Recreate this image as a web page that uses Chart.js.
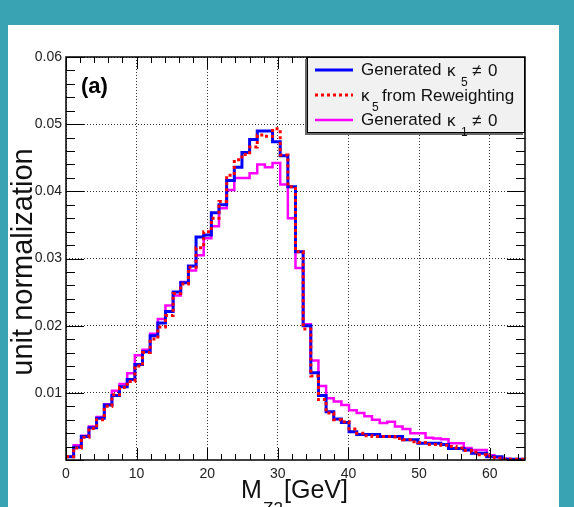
<!DOCTYPE html>
<html>
<head>
<meta charset="utf-8">
<script src="https://cdn.jsdelivr.net/npm/chart.js@4.4.1/dist/chart.umd.min.js"></script>
<style>
  html, body { margin: 0; padding: 0; }
  body { width: 574px; height: 507px; overflow: hidden; background: #3aa3b3; position: relative; }
  .card { position: absolute; left: 8px; top: 25px; width: 551px; height: 500px; background: #fff; }
  canvas { position: absolute; left: 0; top: 0; }
</style>
</head>
<body>
<div class="card"></div>
<canvas id="myChart" width="574" height="507"></canvas>
<script>
// histogram range (GeV) and axis ticks
const xMin = 0;
const xMax = 65;
const xTickLabels = [0, 10, 20, 30, 40, 50, 60];
const yTickLabels = ["0.01", "0.02", "0.03", "0.04", "0.05", "0.06"];

// bin contents, 60 bins between xMin and xMax
const generatedK5 = [
  0.0005, 0.0019, 0.0035, 0.0048, 0.0062, 0.0082, 0.0096, 0.0109, 0.0120, 0.0142,
  0.0161, 0.0185, 0.0204, 0.0221, 0.0250, 0.0264, 0.0289, 0.0332, 0.0335, 0.0368,
  0.0380, 0.0416, 0.0436, 0.0458, 0.0477, 0.0490, 0.0490, 0.0474, 0.0453, 0.0407,
  0.0310, 0.0200, 0.0130, 0.0096, 0.0072, 0.0061, 0.0056, 0.0042, 0.0038, 0.0038,
  0.0038, 0.0035, 0.0035, 0.0035, 0.0030, 0.0030, 0.0025, 0.0025, 0.0025, 0.0023,
  0.0017, 0.0017, 0.0015, 0.0010, 0.0010, 0.0005, 0.0005, 0.0001, 0.0001, 0.0001
];
const reweightedK5 = [
  0.0005, 0.0018, 0.0034, 0.0047, 0.0060, 0.0080, 0.0097, 0.0108, 0.0117, 0.0140,
  0.0160, 0.0180, 0.0198, 0.0215, 0.0248, 0.0262, 0.0287, 0.0316, 0.0340, 0.0360,
  0.0385, 0.0424, 0.0447, 0.0455, 0.0466, 0.0484, 0.0482, 0.0493, 0.0454, 0.0407,
  0.0310, 0.0195, 0.0125, 0.0090, 0.0070, 0.0060, 0.0057, 0.0046, 0.0040, 0.0036,
  0.0035, 0.0035, 0.0035, 0.0032, 0.0030, 0.0027, 0.0026, 0.0023, 0.0023, 0.0022,
  0.0020, 0.0018, 0.0014, 0.0012, 0.0008, 0.0006, 0.0003, 0.0001, 0.0001, 0.0001
];
const generatedK1 = [
  0.0005, 0.0022, 0.0036, 0.0050, 0.0064, 0.0083, 0.0103, 0.0113, 0.0129, 0.0156,
  0.0164, 0.0188, 0.0210, 0.0230, 0.0245, 0.0265, 0.0282, 0.0305, 0.0330, 0.0348,
  0.0375, 0.0402, 0.0420, 0.0420, 0.0427, 0.0440, 0.0436, 0.0442, 0.0410, 0.0360,
  0.0286, 0.0202, 0.0148, 0.0110, 0.0092, 0.0087, 0.0082, 0.0074, 0.0070, 0.0065,
  0.0060, 0.0055, 0.0057, 0.0050, 0.0046, 0.0040, 0.0040, 0.0033, 0.0032, 0.0031,
  0.0025, 0.0025, 0.0018, 0.0015, 0.0015, 0.0007, 0.0004, 0.0002, 0.0001, 0.0001
];

// turn bin contents into step points at the bin edges
const toSteps = (vals) => {
  const w = (xMax - xMin) / vals.length;
  const pts = vals.map((v, i) => ({ x: xMin + i * w, y: v }));
  pts.push({ x: xMax, y: vals[vals.length - 1] });
  return pts;
};

const FONT = "'Liberation Sans', Arial, Helvetica, sans-serif";

// ROOT style frame with inward ticks on all four sides
const frameTicks = {
  id: "frameTicks",
  afterDatasetsDraw(chart) {
    const { ctx, chartArea: a, scales: { x, y } } = chart;
    ctx.save();
    ctx.strokeStyle = "#000";
    ctx.lineWidth = 1;
    ctx.beginPath();
    for (let k = 0; k <= (xMax - xMin) / 2; k++) {
      const v = xMin + k * 2;
      const px = Math.round(x.getPixelForValue(v)) + 0.5;
      const len = v % 10 === 0 ? 12 : 6;
      ctx.moveTo(px, a.bottom); ctx.lineTo(px, a.bottom - len);
      ctx.moveTo(px, a.top); ctx.lineTo(px, a.top + len);
    }
    for (let k = 0; k <= 30; k++) {
      const py = Math.round(y.getPixelForValue(k * 0.002)) + 0.5;
      const len = k % 5 === 0 ? 18 : 9;
      ctx.moveTo(a.left, py); ctx.lineTo(a.left + len, py);
      ctx.moveTo(a.right, py); ctx.lineTo(a.right - len, py);
    }
    ctx.stroke();
    ctx.lineWidth = 1.5;
    ctx.strokeRect(a.left, a.top, a.right - a.left, a.bottom - a.top);
    ctx.restore();
  }
};

// legend box, label (a) and axis titles
const extras = {
  id: "extras",
  afterDraw(chart) {
    const { ctx, chartArea: a } = chart;
    ctx.save();

    // legend box
    const bx = 307, by = a.top, bw = a.right - 307, bh = 76;
    ctx.fillStyle = "#f1f1f1";
    ctx.fillRect(bx, by, bw, bh);
    ctx.fillStyle = "#6a6a6a";
    ctx.fillRect(bx - 2, by + 2, 2, bh);
    ctx.fillRect(bx - 2, by + bh, bw, 2);
    ctx.strokeStyle = "#000";
    ctx.lineWidth = 1;
    ctx.strokeRect(bx + 0.5, by + 0.5, bw - 1, bh - 1);

    const rows = [70, 95, 120];
    const styles = [
      { c: "#0000ff", dash: [] },
      { c: "#ff0000", dash: [3, 3] },
      { c: "#ff00ff", dash: [] }
    ];
    rows.forEach((ry, i) => {
      ctx.beginPath();
      ctx.setLineDash(styles[i].dash);
      ctx.strokeStyle = styles[i].c;
      ctx.lineWidth = i === 2 ? 2.5 : 3;
      ctx.moveTo(315, ry); ctx.lineTo(353, ry);
      ctx.stroke();
    });
    ctx.setLineDash([]);

    ctx.fillStyle = "#111";
    ctx.textBaseline = "middle";
    ctx.textAlign = "left";
    const big = "17px " + FONT;
    const small = "12px " + FONT;
    const genRow = (ry, sub) => {
      ctx.font = big;
      ctx.fillText("Generated", 361, ry);
      ctx.fillText("\u03ba", 447, ry + 1);
      ctx.fillText("\u2260", 472, ry + 1);
      ctx.fillText("0", 488, ry + 1);
      ctx.font = small;
      ctx.fillText(sub, 461, ry + 13);
    };
    genRow(rows[0], "5");
    ctx.font = big;
    ctx.fillText("\u03ba", 361, rows[1] + 1);
    ctx.fillText("from Reweighting", 382, rows[1] + 1);
    ctx.font = small;
    ctx.fillText("5", 372, rows[1] + 13);
    genRow(rows[2], "1");

    // panel label
    ctx.font = "bold 22px " + FONT;
    ctx.fillStyle = "#000";
    ctx.fillText("(a)", 81, 87);

    // y title
    ctx.save();
    ctx.translate(24, 262);
    ctx.rotate(-Math.PI / 2);
    ctx.textAlign = "center";
    ctx.font = "29px " + FONT;
    ctx.fillStyle = "#111";
    ctx.fillText("unit normalization", 0, 0);
    ctx.restore();

    // x title
    ctx.textBaseline = "alphabetic";
    ctx.font = "25px " + FONT;
    ctx.fillStyle = "#111";
    ctx.fillText("M", 241, 498);
    ctx.fillText("[GeV]", 284, 498);
    ctx.font = "17px " + FONT;
    ctx.fillText("Z2", 263, 514);

    ctx.restore();
  }
};

const ctx = document.getElementById("myChart");

const myChart = new Chart(ctx, {
  type: "line",
  data: {
    datasets: [
      {
        label: "\u03ba5 from Reweighting",
        data: toSteps(reweightedK5),
        borderColor: "#ff0000",
        borderWidth: 3,
        borderDash: [3, 3],
        stepped: true,
        pointRadius: 0,
        fill: false
      },
      {
        label: "Generated \u03ba5 \u2260 0",
        data: toSteps(generatedK5),
        borderColor: "#0000ff",
        borderWidth: 3,
        stepped: true,
        pointRadius: 0,
        fill: false
      },
      {
        label: "Generated \u03ba1 \u2260 0",
        data: toSteps(generatedK1),
        borderColor: "#ff00ff",
        borderWidth: 2.5,
        stepped: true,
        pointRadius: 0,
        fill: false
      }
    ]
  },
  options: {
    responsive: false,
    animation: false,
    devicePixelRatio: 1,
    layout: { padding: { top: 57, right: 49, left: 0, bottom: 0 } },
    plugins: { legend: { display: false }, tooltip: { enabled: false } },
    scales: {
      x: {
        type: "linear",
        min: xMin,
        max: xMax,
        afterBuildTicks: (s) => {
          s.ticks = xTickLabels.map((v) => ({ value: v }));
        },
        afterFit: (s) => { s.height = 47; },
        ticks: {
          font: { size: 14, family: FONT },
          color: "#222",
          padding: 6,
          maxRotation: 0,
          callback: (v) => String(v)
        },
        grid: { color: "#333", lineWidth: 1, drawTicks: false },
        border: { display: false, dash: [1, 2] }
      },
      y: {
        min: 0,
        max: 0.06,
        afterBuildTicks: (s) => {
          s.ticks = yTickLabels.map((t) => ({ value: parseFloat(t) }));
        },
        afterFit: (s) => { s.width = 66; },
        ticks: {
          font: { size: 14, family: FONT },
          color: "#222",
          padding: 4,
          callback: (v) => v.toFixed(2)
        },
        grid: { color: "#333", lineWidth: 1, drawTicks: false },
        border: { display: false, dash: [1, 2] }
      }
    }
  },
  plugins: [frameTicks, extras]
});
</script>
</body>
</html>
